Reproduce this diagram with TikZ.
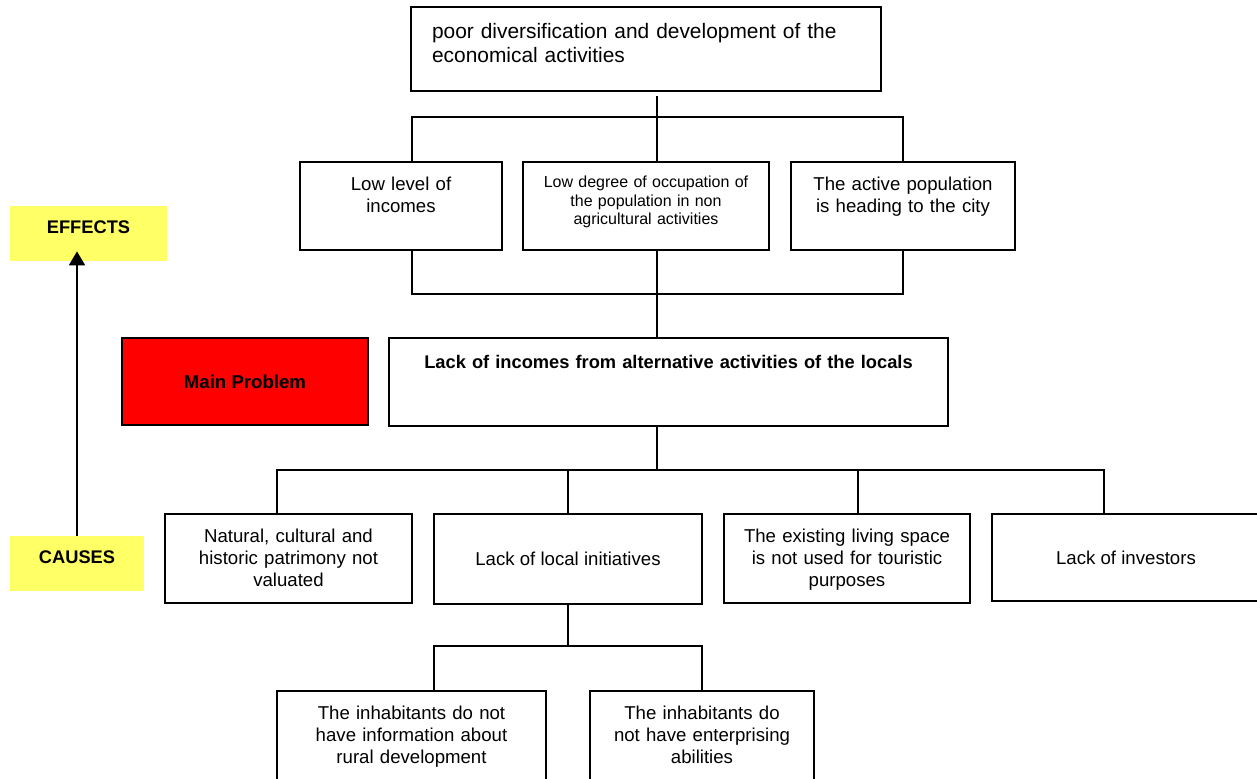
\documentclass[tikz,border=0pt]{standalone}
\usepackage{fontspec}
\setmainfont{Liberation Sans}
\usetikzlibrary{arrows.meta}
\definecolor{notepad}{HTML}{FFFF66}
\begin{document}
\begin{tikzpicture}[x=0.02cm,y=-0.02cm,
		cell/.style 2 args={draw,line width=1.1pt,inner sep=0pt,align=center,text width=#1,text height=0.57cm,text depth=#2,font=\fontsize{10.6}{12.5}\selectfont},
		plain/.style 2 args={draw,line width=1.1pt,inner sep=0pt,minimum width=#1,minimum height=#2,font=\fontsize{10.6}{12.5}\selectfont},
		tag/.style 2 args={fill=notepad,inner sep=0pt,align=center,text width=#1,text height=0.55cm,text depth=#2,font=\fontsize{10.4}{12.5}\selectfont\bfseries},
		link/.style={line width=1pt}]
		\fill[color=white] (0,0) rectangle (1257,778);
		\clip (0,0) rectangle (1257,778);

		\node[draw,line width=1.1pt,inner xsep=0.42cm,inner ysep=0pt,align=left,text width=8.56cm,text height=0.63cm,text depth=1.05cm,font=\fontsize{11.9}{13.6}\selectfont] (top) at (646,49) {poor diversification and development of the\\economical activities};

		\node[cell={4.04cm}{1.19cm}] (linc) at (401,206) {Low level of\\incomes};
		\node[cell={4.92cm}{1.25cm},text height=0.51cm,font=\fontsize{9.1}{10.6}\selectfont] (ldeg) at (646,206) {Low degree of occupation of\\the population in non\\agricultural activities};
		\node[cell={4.48cm}{1.19cm}] (act) at (903,206) {The active population\\is heading to the city};

		\node[plain={4.92cm}{1.74cm},fill=red,font=\fontsize{10.6}{12.5}\selectfont\bfseries] (prob) at (245,381.5) {Main Problem};
		\node[cell={11.18cm}{1.15cm},text height=0.61cm,font=\fontsize{10.4}{12.5}\selectfont\bfseries] (main) at (668.5,382) {Lack of incomes from alternative activities of the locals};

		\node[cell={4.94cm}{1.21cm}] (nat) at (288.5,558.5) {Natural, cultural and\\historic patrimony not\\valuated};
		\node[plain={5.36cm}{1.8cm}] (local) at (568,559) {Lack of local initiatives};
		\node[cell={4.92cm}{1.21cm}] (exist) at (847,558.5) {The existing living space\\is not used for touristic\\purposes};
		\node[plain={5.36cm}{1.74cm}] (inv) at (1126,557.5) {Lack of investors};

		\node[cell={5.38cm}{1.21cm}] (rur) at (411.5,735.5) {The inhabitants do not\\have information about\\rural development};
		\node[cell={4.48cm}{1.21cm}] (abil) at (702,735.5) {The inhabitants do\\not have enterprising\\abilities};

		\node[tag={3.14cm}{0.55cm}] (effects) at (88.5,233.5) {EFFECTS};
		\node[tag={2.68cm}{0.55cm}] (causes) at (77,563.5) {CAUSES};

		\coordinate (up) at (657,96);
		\coordinate (hub1) at (657,117);
		\coordinate (hub2) at (657,294);
		\coordinate (hub3) at (657,470);
		\coordinate (hub4) at (568,646);

		\draw[link] (up) -- (up |- ldeg.north);
		\draw[link] ([xshift=0.22cm]linc.north) |- (hub1) -| (act.north);
		\draw[link] ([xshift=0.22cm]linc.south) |- (hub2) -| (act.south);
		\draw[link] (hub2 |- ldeg.south) -- (hub2 |- main.north);
		\draw[link] (hub3 |- main.south) -- (hub3);
		\draw[link] ([xshift=-0.23cm]nat.north) |- ([xshift=-0.44cm]inv.north |- hub3) -- ([xshift=-0.44cm]inv.north);
		\draw[link] (local.north) -- (local.north |- hub3);
		\draw[link] ([xshift=0.22cm]exist.north) -- ([xshift=0.22cm]exist.north |- hub3);
		\draw[link] (local.south) -- (hub4);
		\draw[link] ([xshift=0.45cm]rur.north) |- (hub4) -| (abil.north);

		\draw[line width=1.1pt,-{Triangle[length=0.28cm,width=0.32cm]}] (causes.north) -- ([yshift=0.2cm]causes.north |- effects.south);
	\end{tikzpicture}
\end{document}
